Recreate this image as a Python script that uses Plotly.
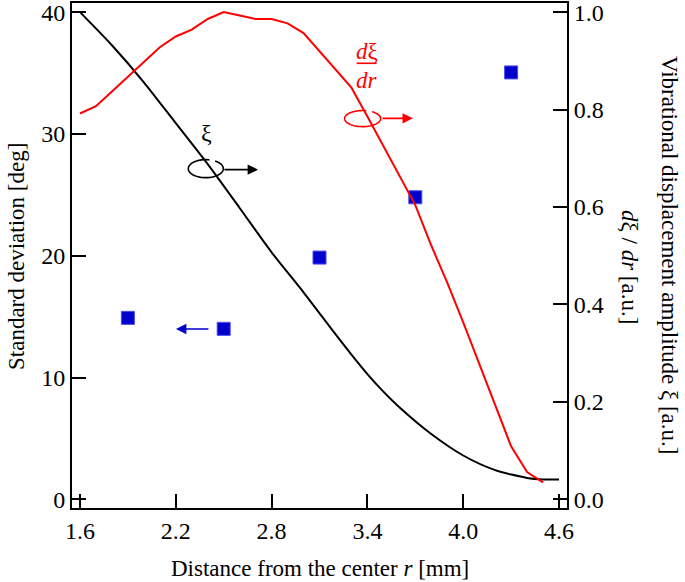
import numpy as np
import plotly.graph_objects as go

# ---- data ----
std_r = [1.9, 2.5, 3.1, 3.7, 4.3]
std_dev = [14.9, 14.0, 19.85, 24.8, 35.05]

xi_r = [1.6, 1.8, 2.0, 2.2, 2.4, 2.6, 2.8, 3.0, 3.2, 3.3, 3.4, 3.5, 3.6, 3.8, 4.0, 4.2, 4.4, 4.5, 4.6]
xi_val = [1.0, 0.932, 0.856, 0.772, 0.688, 0.598, 0.507, 0.425, 0.339, 0.297, 0.257, 0.221,
          0.189, 0.134, 0.090, 0.060, 0.044, 0.041, 0.041]

dxi_r = [1.6, 1.7, 1.8, 1.9, 2.0, 2.1, 2.2, 2.3, 2.4, 2.5, 2.6, 2.7, 2.8, 2.9, 3.0,
         3.1, 3.2, 3.3, 3.4, 3.5, 3.6, 3.7, 3.8, 3.9, 4.0, 4.1, 4.2, 4.3, 4.4, 4.5]
dxi_val = [0.792, 0.807, 0.837, 0.867, 0.897, 0.928, 0.950, 0.964, 0.986, 1.0, 0.993,
           0.986, 0.986, 0.977, 0.957, 0.920, 0.883, 0.845, 0.786, 0.726, 0.664, 0.604,
           0.521, 0.445, 0.363, 0.278, 0.194, 0.109, 0.056, 0.035]

x_ticks = [1.6, 2.2, 2.8, 3.4, 4.0, 4.6]
yl_ticks = [0, 10, 20, 30, 40]
yr_ticks = [0.0, 0.2, 0.4, 0.6, 0.8, 1.0]

FONT = "Liberation Serif, Times New Roman, serif"
RED = "#ff0000"
BLUE = "#0000cc"
TICKSIZE = 24
TITLESIZE = 23

fig = go.Figure()
fig.add_trace(go.Scatter(x=xi_r, y=xi_val, mode="lines", yaxis="y2",
                         line=dict(color="black", width=2, shape="spline", smoothing=0.7),
                         showlegend=False))
fig.add_trace(go.Scatter(x=dxi_r, y=dxi_val, mode="lines", yaxis="y2",
                         line=dict(color=RED, width=2), showlegend=False))
fig.add_trace(go.Scatter(x=std_r, y=std_dev, mode="markers", yaxis="y",
                         marker=dict(symbol="square", size=13, color=BLUE,
                                     line=dict(color="#4a4aee", width=1)),
                         showlegend=False))

# ---- decorations: rotation ellipses with gap, arrows ----
def ellipse_path(cx, cy, rx, ry, gap=(58, 78)):
    t = np.deg2rad(np.linspace(gap[1], gap[0] + 360, 80))
    xs = cx + rx * np.cos(t)
    ys = cy + ry * np.sin(t)
    return "M " + " L ".join(f"{a:.4f},{b:.4f}" for a, b in zip(xs, ys))

fig.add_shape(type="path", xref="x", yref="y",
              path=ellipse_path(2.388, 27.15, 0.1096, 0.74),
              line=dict(color="black", width=1.6))
fig.add_shape(type="path", xref="x", yref="y",
              path=ellipse_path(3.370, 31.26, 0.1127, 0.66),
              line=dict(color=RED, width=1.6))
# fraction bar
fig.add_shape(type="line", xref="x", yref="y", x0=3.333, x1=3.458, y0=35.8, y1=35.8,
              line=dict(color=RED, width=1.6))

anns = []
def arrow(x0, x1, y, color):
    anns.append(dict(x=x1, y=y, ax=x0, ay=y, xref="x", yref="y", axref="x", ayref="y",
                     showarrow=True, arrowhead=2, arrowsize=1.3, arrowwidth=1.6,
                     arrowcolor=color, text=""))

arrow(2.495, 2.715, 27.07, "black")
arrow(3.485, 3.685, 31.28, RED)
arrow(2.414, 2.201, 13.99, BLUE)

anns.append(dict(x=2.393, y=30.05, xref="x", yref="y", text="ξ", showarrow=False,
                 font=dict(family=FONT, size=24, color="black")))
anns.append(dict(x=3.395, y=36.75, xref="x", yref="y", text="<i>d</i>ξ", showarrow=False,
                 font=dict(family=FONT, size=23, color=RED)))
anns.append(dict(x=3.395, y=34.35, xref="x", yref="y", text="<i>dr</i>", showarrow=False,
                 font=dict(family=FONT, size=23, color=RED)))

L, R, T, B = 72, 567, 3, 508

def px_to_paper(px, py):
    return (px - L) / (R - L), (B - py) / (B - T)

# right-axis titles (rotated, reading top to bottom)
for text, px, py in [("Vibrational displacement amplitude ξ [a.u.]", 670, 255),
                     ("<i>d</i>ξ / <i>dr</i> [a.u.]", 630, 267)]:
    xp, yp = px_to_paper(px, py)
    anns.append(dict(x=xp, y=yp, xref="paper", yref="paper", text=text, showarrow=False,
                     textangle=90, xanchor="center", yanchor="middle",
                     font=dict(family=FONT, size=TITLESIZE, color="black")))
# left and bottom titles
xp, yp = px_to_paper(16, 257)
anns.append(dict(x=xp, y=yp, xref="paper", yref="paper", text="Standard deviation [deg]",
                 showarrow=False, textangle=-90, xanchor="center", yanchor="middle",
                 font=dict(family=FONT, size=TITLESIZE, color="black")))
xp, yp = px_to_paper(320, 568)
anns.append(dict(x=xp, y=yp, xref="paper", yref="paper",
                 text="Distance from the center <i>r</i> [mm]",
                 showarrow=False, xanchor="center", yanchor="middle",
                 font=dict(family=FONT, size=TITLESIZE, color="black")))

axis_common = dict(ticks="inside", ticklen=14, tickwidth=1.5, tickcolor="black",
                   showline=True, linecolor="black", linewidth=2,
                   showgrid=False, zeroline=False, automargin=False,
                   ticklabeloverflow="allow",
                   tickfont=dict(family=FONT, size=TICKSIZE, color="black"))

fig.update_layout(
    width=685, height=582,
    margin=dict(l=L, r=685 - R, t=T, b=582 - B, autoexpand=False),
    paper_bgcolor="white", plot_bgcolor="white",
    font=dict(family=FONT, size=TICKSIZE, color="black"),
    annotations=anns,
    hovermode=False,
    xaxis=dict(range=[1.55, 4.65], tickvals=x_ticks, ticktext=[f"{v:.1f}" for v in x_ticks],
               mirror=True, **axis_common),
    yaxis=dict(range=[-0.71, 40.75], tickvals=yl_ticks, **axis_common),
    yaxis2=dict(range=[-0.71 / 40, 40.75 / 40], tickvals=yr_ticks,
                ticktext=[f"{v:.1f}" for v in yr_ticks], overlaying="y", side="right",
                **axis_common),
)

fig.write_html("out.html", config={"displayModeBar": False},
               post_script="document.body.style.margin='0';document.body.style.padding='0';")
